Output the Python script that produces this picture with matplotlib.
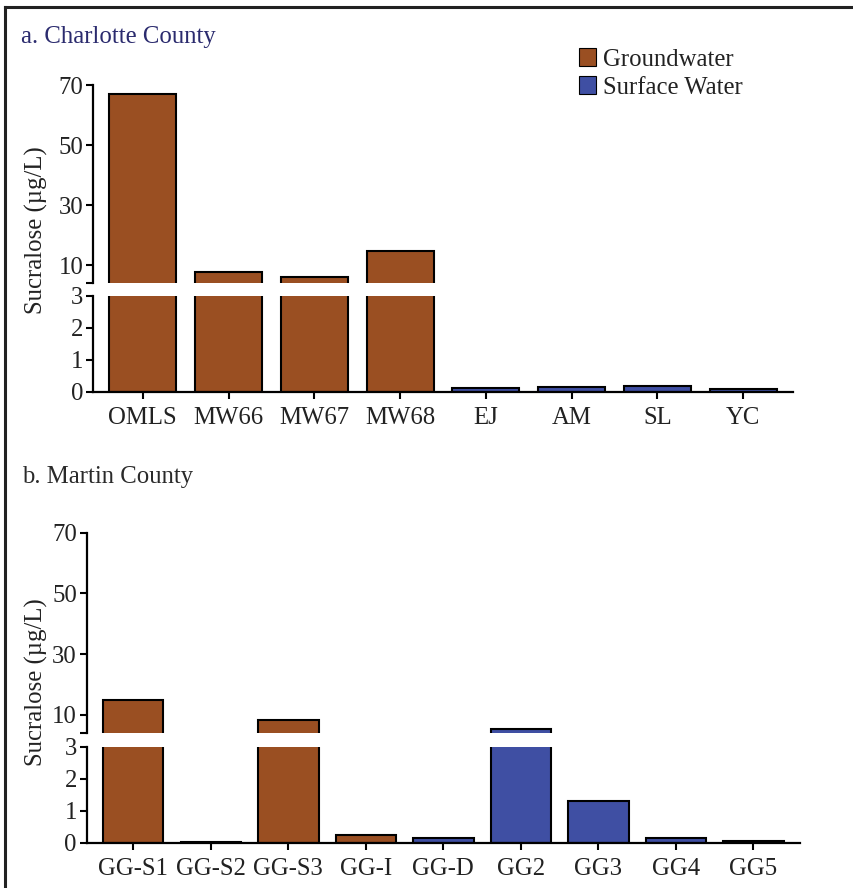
import matplotlib
matplotlib.use("Agg")
import matplotlib.pyplot as plt
from matplotlib.patches import Patch
from matplotlib.lines import Line2D

# ---- data ----
cats_a = ['OMLS', 'MW66', 'MW67', 'MW68', 'EJ', 'AM', 'SL', 'YC']
vals_a = [67.0, 7.5, 5.9, 14.7, 0.13, 0.15, 0.2, 0.1]
type_a = ['Groundwater'] * 4 + ['Surface Water'] * 4

cats_b = ['GG-S1', 'GG-S2', 'GG-S3', 'GG-I', 'GG-D', 'GG2', 'GG3', 'GG4', 'GG5']
vals_b = [14.8, 0.02, 8.3, 0.24, 0.16, 5.3, 1.3, 0.14, 0.05]
type_b = ['Groundwater'] * 4 + ['Surface Water'] * 5

upper_ticks = [10, 30, 50, 70]
lower_ticks = [0, 1, 2, 3]
ylabel = 'Sucralose (\u00b5g/L)'

colors = {'Groundwater': '#9A4F22', 'Surface Water': '#3F4FA3'}

plt.rcParams['font.family'] = ['Liberation Serif', 'DejaVu Serif']
FS = 17.8
TXT = '#222222'

W, H = 854, 888
fig = plt.figure(figsize=(W / 100, H / 100), dpi=100)


def frac(x0, x1, ytop, ybot):
    return [x0 / W, 1 - ybot / H, (x1 - x0) / W, (ybot - ytop) / H]


def panel(cats, vals, types, x0, x1, yu_top, yu_bot, yl_top, yl_bot, pad):
    n = len(cats)
    xs = list(range(n))
    cols = [colors[t] for t in types]
    axu = fig.add_axes(frac(x0, x1, yu_top, yu_bot))
    axl = fig.add_axes(frac(x0, x1, yl_top, yl_bot))
    for ax in (axu, axl):
        ax.bar(xs, vals, width=0.78, color=cols, edgecolor='black', linewidth=1.5)
        ax.set_xlim(-pad, n - 1 + pad)
        for s in ('top', 'right'):
            ax.spines[s].set_visible(False)
        ax.spines['left'].set_linewidth(1.6)
        ax.tick_params(axis='y', direction='out', length=5, width=1.5,
                       labelsize=FS, labelcolor=TXT, pad=2)
        ax.patch.set_alpha(0)
    axu.set_ylim(4, 70)
    axu.set_yticks([4] + upper_ticks, [''] + [str(t) for t in upper_ticks])
    axu.spines['bottom'].set_visible(False)
    axu.set_xticks([])
    axl.set_ylim(0, 3)
    axl.set_yticks(lower_ticks, [str(t) for t in lower_ticks])
    axl.spines['bottom'].set_linewidth(1.6)
    axl.set_xticks(xs, cats)
    axl.tick_params(axis='x', direction='out', length=5, width=1.5,
                    labelsize=FS, labelcolor=TXT, pad=6)
    return axu, axl


axau, axal = panel(cats_a, vals_a, type_a, 93, 793, 85, 283, 296, 392, 0.58)
axbu, axbl = panel(cats_b, vals_b, type_b, 86.7, 800, 532.7, 733, 746.7, 842.7, 0.6)

fig.text(36 / W, 1 - 230 / H, ylabel, rotation=90, ha='center', va='center',
         fontsize=FS, color=TXT)
fig.text(36 / W, 1 - 682 / H, ylabel, rotation=90, ha='center', va='center',
         fontsize=FS, color=TXT)

fig.text(21 / W, 1 - 37 / H, 'a. Charlotte County', ha='left', va='center',
         fontsize=FS, color='#2B2B6E')
fig.text(22 / W, 1 - 477 / H, 'b. Martin County', ha='left', va='center',
         fontsize=FS, color='#2A2A2A')

handles = [Patch(facecolor=colors[k], edgecolor='black', linewidth=0.8)
           for k in ('Groundwater', 'Surface Water')]
fig.legend(handles, ['Groundwater', 'Surface Water'], loc='upper left',
           bbox_to_anchor=(579 / W, 1 - 48 / H), frameon=False, fontsize=FS,
           handlelength=0.7, handleheight=0.75, handletextpad=0.28,
           labelspacing=0.22, borderpad=0, borderaxespad=0, labelcolor=TXT)

# outer frame (top and left edges)
fig.add_artist(Line2D([5 / W, 5 / W], [0, 1 - 7 / H], transform=fig.transFigure,
                      color='#222222', linewidth=2.2))
fig.add_artist(Line2D([5 / W, 1], [1 - 7 / H, 1 - 7 / H], transform=fig.transFigure,
                      color='#222222', linewidth=2.2))

fig.savefig('out.png', dpi=100, facecolor='white')
